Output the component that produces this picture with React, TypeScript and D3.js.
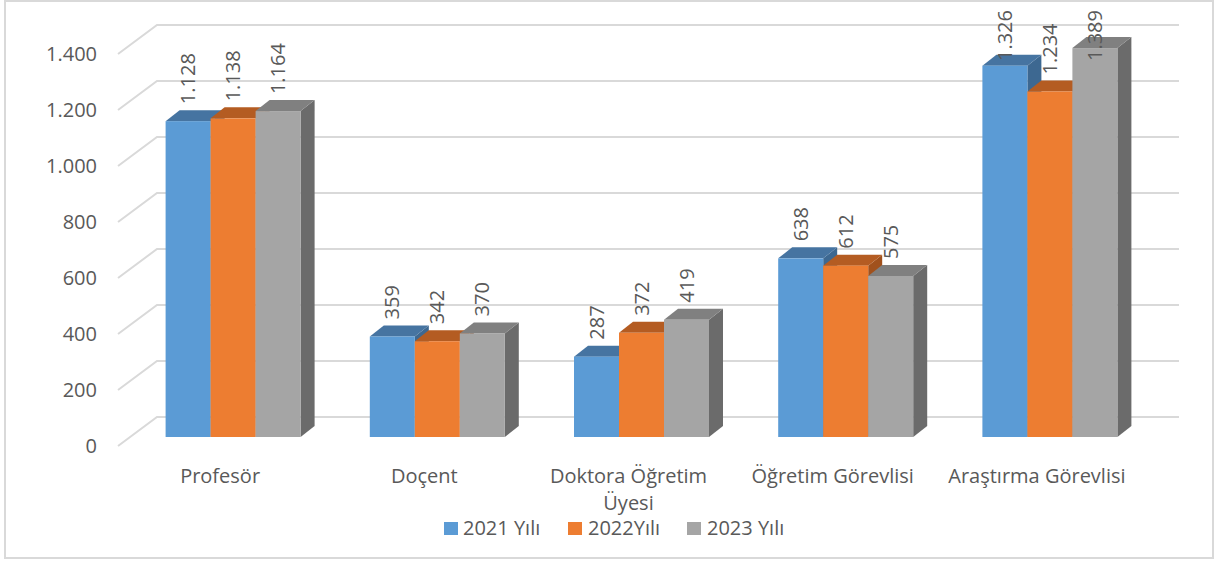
import React from "react";
import * as d3 from "d3";

const categories = ["Profesör", "Doçent", "Doktora Öğretim Üyesi", "Öğretim Görevlisi", "Araştırma Görevlisi"];
const categoryLines = [["Profesör"], ["Doçent"], ["Doktora Öğretim", "Üyesi"], ["Öğretim Görevlisi"], ["Araştırma Görevlisi"]];
const seriesNames = ["2021 Yılı", "2022Yılı", "2023 Yılı"];
const values2021 = [1128, 359, 287, 638, 1326];
const values2022 = [1138, 342, 372, 612, 1234];
const values2023 = [1164, 370, 419, 575, 1389];
const yTicks = [0, 200, 400, 600, 800, 1000, 1200, 1400];

const seriesValues = [values2021, values2022, values2023];
const frontColors = ["#5B9BD5", "#ED7D31", "#A5A5A5"];
const topColors = ["#4674A1", "#B45C22", "#808080"];
const sideColors = ["#3D6891", "#A1511C", "#6B6B6B"];

const fmt = (v: number) => {
  const s = String(v);
  return s.length > 3 ? s.slice(0, s.length - 3) + "." + s.slice(s.length - 3) : s;
};

const FONT = "'Open Sans', 'Noto Sans', sans-serif";
const TXT = "#595959";

export default function App() {
  const W = 1215, H = 561;
  // front edge of floor/grid
  const yFront = d3.scaleLinear().domain([0, 1400]).range([446, 54]);
  const gridDX = 39, gridDY = -29;
  const xFront = d3.scaleBand<string>().domain(categories).range([118, 118 + 1021]);
  const xBack = d3.scaleBand<string>().domain(categories).range([157, 1178]);
  // bar front plane
  const barShiftX = -26, barShiftY = 20;
  const yBar = d3.scaleLinear().domain([0, 1400]).range([417 + barShiftY, 417 + barShiftY - 392]);
  const groupW = 135;
  const xSub = d3.scaleBand<string>().domain(seriesNames).range([0, groupW]);
  const depthX = 14, depthY = -11;

  const bars: JSX.Element[] = [];
  const labels: JSX.Element[] = [];
  categories.forEach((c, ci) => {
    const gx = (xBack(c) as number) + (xBack.bandwidth() - groupW) / 2 + barShiftX;
    seriesNames.forEach((s, si) => {
      const v = seriesValues[si][ci];
      const x0 = gx + (xSub(s) as number);
      const x1 = x0 + xSub.bandwidth();
      const yt = yBar(v);
      const yb = yBar(0);
      bars.push(
        <g key={`b${ci}-${si}`}>
          <polygon
            points={`${x1},${yt} ${x1 + depthX},${yt + depthY} ${x1 + depthX},${yb + depthY} ${x1},${yb}`}
            fill={sideColors[si]}
          />
          <polygon
            points={`${x0},${yt} ${x0 + depthX},${yt + depthY} ${x1 + depthX},${yt + depthY} ${x1},${yt}`}
            fill={topColors[si]}
          />
          <rect x={x0} y={yt} width={x1 - x0} height={yb - yt} fill={frontColors[si]} />
        </g>
      );
      const txt = fmt(v);
      const len = txt.length === 5 ? 51 : 34;
      let start = yt + depthY - 6;
      if (start - len < 10) start = 10 + len;
      const cx = (x0 + x1) / 2;
      labels.push(
        <text
          key={`l${ci}-${si}`}
          transform={`translate(${cx},${start}) rotate(-90)`}
          dy="0.35em"
          fontSize={20}
          fill={TXT}
          fontFamily={FONT}
          textAnchor="start"
        >
          {txt}
        </text>
      );
    });
  });

  const legendItems = [
    { sx: 444, tx: 463 },
    { sx: 568, tx: 588 },
    { sx: 687, tx: 707 },
  ];

  return (
    <svg width={W} height={H} style={{ position: "absolute", left: 0, top: 0, background: "#fff" }}>
      <rect x={5} y={1} width={1208} height={557} fill="#fff" stroke="#d9d9d9" strokeWidth={2} />
      {yTicks.map((t) => {
        const yf = yFront(t);
        return (
          <g key={`g${t}`}>
            <polyline
              points={`${118},${yf} ${118 + gridDX},${yf + gridDY} ${1179},${yf + gridDY}`}
              fill="none"
              stroke="#d9d9d9"
              strokeWidth={2}
            />
            <text x={97} y={yf} dy="0.36em" textAnchor="end" fontSize={20} fill={TXT} fontFamily={FONT}>
              {fmt(t)}
            </text>
          </g>
        );
      })}
      {bars}
      {labels}
      {categories.map((c, ci) => {
        const cx = (xFront(c) as number) + xFront.bandwidth() / 2;
        return (
          <text key={`c${ci}`} x={cx} y={483} textAnchor="middle" fontSize={20} fill={TXT} fontFamily={FONT}>
            {categoryLines[ci].map((ln, li) => (
              <tspan key={li} x={cx} dy={li === 0 ? 0 : 27}>
                {ln}
              </tspan>
            ))}
          </text>
        );
      })}
      {seriesNames.map((s, si) => (
        <g key={`lg${si}`}>
          <rect x={legendItems[si].sx} y={522} width={14} height={13} fill={frontColors[si]} />
          <text x={legendItems[si].tx} y={535} fontSize={20} fill={TXT} fontFamily={FONT}>
            {s}
          </text>
        </g>
      ))}
    </svg>
  );
}
